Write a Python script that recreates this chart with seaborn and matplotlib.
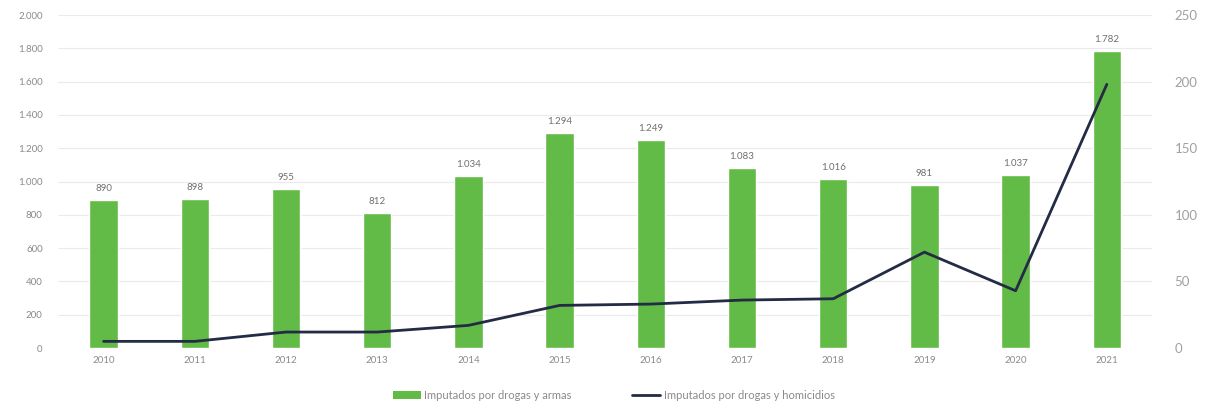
import matplotlib
matplotlib.use("Agg")
import matplotlib.pyplot as plt
import seaborn as sns
import pandas as pd
from matplotlib.patches import Patch
from matplotlib.lines import Line2D

# datos
anios = [2010, 2011, 2012, 2013, 2014, 2015, 2016, 2017, 2018, 2019, 2020, 2021]
drogas_armas = [890, 898, 955, 812, 1034, 1294, 1249, 1083, 1016, 981, 1037, 1782]
drogas_homicidios = [5, 5, 12, 12, 17, 32, 33, 36, 37, 72, 43, 198]

nombre_barras = "Imputados por drogas y armas"
nombre_linea = "Imputados por drogas y homicidios"

verde = "#62BB46"
azul = "#232B45"
gris = "#8a8a8a"

df = pd.DataFrame({"anio": anios, "armas": drogas_armas, "homicidios": drogas_homicidios})

sns.set_style("white")
plt.rcParams["font.family"] = ["Lato", "DejaVu Sans"]

fig = plt.figure(figsize=(12.08, 4.08), dpi=100)
ax = fig.add_axes([0.048, 0.147, 0.906, 0.816])

sns.barplot(data=df, x="anio", y="armas", native_scale=True, width=0.31,
            color=verde, saturation=1, ax=ax)
ax.set_xlim(2009.5, 2021.5)
ax.set_ylim(0, 2000)
ax.set_yticks(range(0, 2001, 200))
ax.set_yticklabels([f"{v:,}".replace(",", ".") for v in range(0, 2001, 200)])
ax.set_xticks(anios)
ax.set_xticklabels([str(a) for a in anios])
ax.grid(axis="y", color="#ebebeb", linewidth=0.8)
ax.set_axisbelow(True)
ax.set_xlabel("")
ax.set_ylabel("")
ax.tick_params(axis="both", length=0, labelsize=7, colors=gris, pad=6)
ax.tick_params(axis="y", pad=11)
for s in ax.spines.values():
    s.set_visible(False)

etiquetas = [f"{v:,}".replace(",", ".") for v in drogas_armas]
ax.bar_label(ax.containers[0], labels=etiquetas, padding=5, fontsize=7, color="#6f6f6f")

ax2 = ax.twinx()
sns.lineplot(data=df, x="anio", y="homicidios", color=azul, linewidth=2, ax=ax2)
ax2.set_ylim(0, 250)
ax2.set_yticks(range(0, 251, 50))
ax2.set_ylabel("")
ax2.set_xlabel("")
ax2.tick_params(axis="y", length=0, labelsize=9.5, colors="#a0a0a0", pad=16)
for s in ax2.spines.values():
    s.set_visible(False)

handles = [Patch(facecolor=verde, edgecolor="none"),
           Line2D([0], [0], color=azul, linewidth=2)]
leg = fig.legend(handles, [nombre_barras, nombre_linea], loc="center",
                 bbox_to_anchor=(0.508, 0.03), ncol=2, frameon=False, fontsize=8,
                 handlelength=2.5, handletextpad=0.3, columnspacing=5.5)
for t in leg.get_texts():
    t.set_color(gris)

fig.savefig("out.png", dpi=100)
